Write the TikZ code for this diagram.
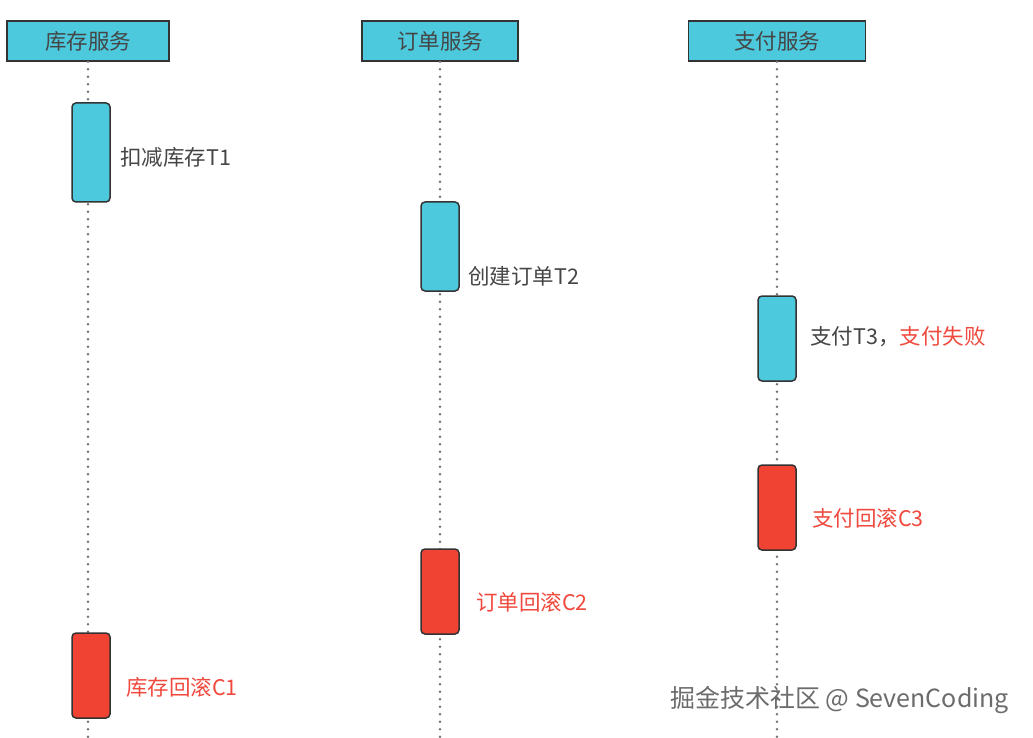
\documentclass[tikz,border=0pt]{standalone}
\usepackage{fontspec}
\setmainfont{Noto Sans CJK SC}
\newfontfamily\cjk{Noto Sans CJK SC}
\definecolor{boxcyan}{HTML}{4CC9DC}
\definecolor{boxred}{HTML}{F04334}
\definecolor{txtred}{HTML}{F04A3E}
\definecolor{txtgray}{HTML}{454545}
\definecolor{edge}{HTML}{333333}
\tikzset{
  header/.style={draw=edge, line width=1.5pt, fill=boxcyan, minimum height=40pt, inner sep=0pt, font=\cjk\fontsize{21.5}{21.5}\selectfont, text=txtgray},
  actcyan/.style={draw=edge, line width=1.5pt, fill=boxcyan, rounded corners=4pt, minimum width=38pt, inner sep=0pt},
  actred/.style={draw=edge, line width=1.5pt, fill=boxred, rounded corners=4pt, minimum width=38pt, inner sep=0pt},
  lifeline/.style={draw=gray!90!black, line width=2.6pt, dash pattern=on 0pt off 7.5pt, line cap=round},
  lblgray/.style={anchor=west, inner sep=0pt, font=\cjk\fontsize{21.5}{21.5}\selectfont, text=txtgray},
  lblred/.style={anchor=west, inner sep=0pt, font=\cjk\fontsize{21.5}{21.5}\selectfont, text=txtred},
}
\begin{document}
\begin{tikzpicture}[x=1pt, y=-1pt]
\useasboundingbox (0,0) rectangle (1033,738);
\fill[white] (0,0) rectangle (1033,738);
% lifelines
\coordinate (e1) at (88,738);
\coordinate (e2) at (440,738);
\coordinate (e3) at (777,738);
\node[header, minimum width=162pt] (h1) at (88,41) {\raisebox{-2pt}{库存服务}};
\node[header, minimum width=156pt] (h2) at (440,41) {\raisebox{-2pt}{订单服务}};
\node[header, minimum width=177pt] (h3) at (777,41) {\raisebox{-2pt}{支付服务}};
\draw[lifeline] (h1.south) -- (e1);
\draw[lifeline] (h2.south) -- (e2);
\draw[lifeline] (h3.south) -- (e3);
% activations
\node[actcyan, minimum height=99pt] (t1) at (91,152.5) {};
\node[actcyan, minimum height=89pt] (t2) at (440,246.5) {};
\node[actcyan, minimum height=85pt] (t3) at (777,338.5) {};
\node[actred, minimum height=85pt] (c3) at (777,507.5) {};
\node[actred, minimum height=85pt] (c2) at (440,591.5) {};
\node[actred, minimum height=85pt] (c1) at (91,675.5) {};
% labels
\node[lblgray] (l1) at (120,157) {扣减库存T1};
\node[lblgray] (l2) at (468,276) {创建订单T2};
\node[lblgray] (l3) at (810,337) {支付T3，\textcolor{txtred}{支付失败}};
\node[lblred] (l4) at (812,518) {支付回滚C3};
\node[lblred] (l5) at (476,602) {订单回滚C2};
\node[lblred] (l6) at (126,687) {库存回滚C1};
% watermark
\node[anchor=west, inner sep=0pt, font=\cjk\fontsize{25}{25}\selectfont, text=gray!85!black] (wm) at (670,700) {掘金技术社区 @ SevenCoding};
\end{tikzpicture}
\end{document}
